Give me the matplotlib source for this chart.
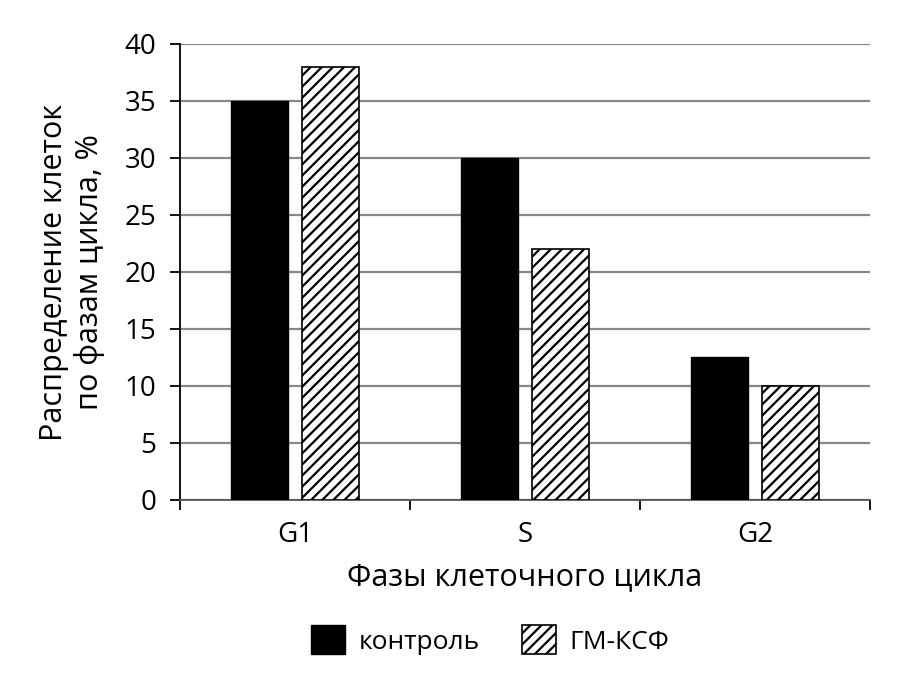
import numpy as np
import matplotlib
matplotlib.use("Agg")
import matplotlib.pyplot as plt

plt.rcParams['font.family'] = ['Open Sans', 'DejaVu Sans']
plt.rcParams['hatch.linewidth'] = 1.6

phases = ['G1', 'S', 'G2']
control = [35, 30, 12.5]
gmcsf = [38, 22, 10]

fig = plt.figure(figsize=(9.12, 6.78), dpi=100)
ax = fig.add_axes([180/912, 1-500/678, 690/912, 456/678])

x = np.arange(len(phases))
width = 0.25
gap = 0.057
ax.bar(x - (width + gap)/2, control, width, color='black', edgecolor='black',
       linewidth=1, label='контроль', zorder=3)
ax.bar(x + (width + gap)/2, gmcsf, width, color='white', edgecolor='black',
       hatch='///', linewidth=1.2, label='ГМ-КСФ', zorder=3)

ax.set_xlim(-0.5, len(phases) - 0.5)
ax.set_ylim(0, 40)
ax.set_yticks(np.arange(0, 41, 5))
ax.yaxis.grid(True, color='#888888', linewidth=1.6, zorder=0)
ax.set_axisbelow(True)

# category labels centered, ticks at the boundaries
ax.set_xticks(x)
ax.set_xticklabels(phases, fontsize=20)
ax.tick_params(axis='x', which='major', length=0, pad=15)
ax.set_xticks(np.arange(-0.5, len(phases)), minor=True)
ax.tick_params(axis='x', which='minor', length=7, width=1.3, direction='out')
ax.tick_params(axis='y', labelsize=20, length=7, width=1.3, pad=10)

for s in ['top', 'right']:
    ax.spines[s].set_visible(False)
ax.spines['left'].set_linewidth(1.3)
ax.spines['bottom'].set_linewidth(1.3)
ax.spines['bottom'].set_color('#555555')

ax.set_xlabel('Фазы клеточного цикла', fontsize=22)
ax.xaxis.set_label_coords(0.5, -(577-500)/456)
ax.xaxis.label.set_va('center')
ax.set_ylabel('Распределение клеток\nпо фазам цикла, %', fontsize=22,
              multialignment='center')
ax.yaxis.set_label_coords(-(180-72)/690, 0.5)
ax.yaxis.label.set_va('center')

fig.legend(loc='center', bbox_to_anchor=(490/912, 1-640/678), ncol=2,
           frameon=False, fontsize=19, handlelength=1.3, handleheight=1.3,
           columnspacing=1.6, handletextpad=0.5)

fig.savefig('out.png', dpi=100)
